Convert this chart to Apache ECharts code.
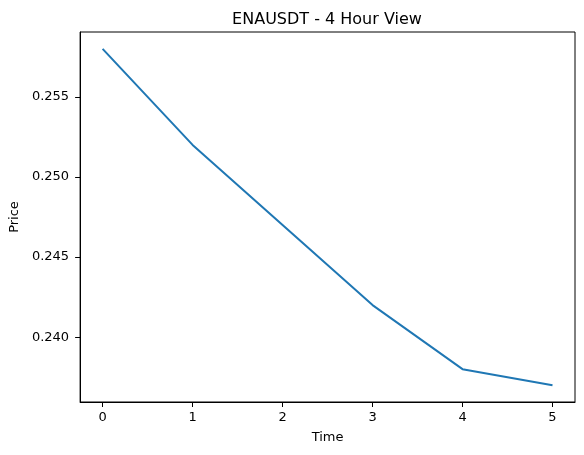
<!DOCTYPE html>
<html>
<head>
<meta charset="utf-8">
<script src="https://cdn.jsdelivr.net/npm/echarts@6/dist/echarts.min.js"></script>
<style>html,body{margin:0;padding:0;background:#fff;}#c{width:584px;height:455px;}</style>
</head>
<body>
<div id="c"></div>
<script>
var times = [0, 1, 2, 3, 4, 5];
var prices = [0.258, 0.252, 0.247, 0.242, 0.238, 0.237];
var xTicks = [0, 1, 2, 3, 4, 5];
var yTicks = [0.240, 0.245, 0.250, 0.255];

var chart = echarts.init(document.getElementById('c'), null, {renderer: 'canvas'});
var font = 'DejaVu Sans';
var lo = Math.min.apply(null, prices), hi = Math.max.apply(null, prices);
var pad = (hi - lo) * 0.05;
chart.setOption({
  animation: false,
  backgroundColor: '#fff',
  title: {
    text: 'ENAUSDT - 4 Hour View',
    left: 322, top: 7, textAlign: 'center',
    textStyle: {fontFamily: font, fontSize: 16, fontWeight: 'normal', color: '#000'}
  },
  grid: {left: 79, top: 32, width: 496, height: 370, show: true, borderColor: '#000', borderWidth: 1, backgroundColor: '#fff'},
  xAxis: {
    type: 'value', min: -0.25, max: 5.25,
    name: 'Time', nameLocation: 'middle', nameGap: 29,
    nameTextStyle: {fontFamily: font, fontSize: 13, color: '#000'},
    axisLine: {show: true, onZero: false, lineStyle: {color: '#000', width: 1}},
    axisTick: {show: true, length: 5, lineStyle: {color: '#000'}, customValues: xTicks},
    axisLabel: {fontFamily: font, fontSize: 13, color: '#000', margin: 9, customValues: xTicks},
    splitLine: {show: false}
  },
  yAxis: {
    type: 'value', min: lo - pad, max: hi + pad,
    name: 'Price', nameLocation: 'middle', nameGap: 57, nameRotate: 90,
    nameTextStyle: {fontFamily: font, fontSize: 13, color: '#000'},
    axisLine: {show: true, onZero: false, lineStyle: {color: '#000', width: 1}},
    axisTick: {show: true, length: 5, lineStyle: {color: '#000'}, customValues: yTicks},
    axisLabel: {fontFamily: font, fontSize: 13, color: '#000', margin: 11, customValues: yTicks,
      formatter: function (v) { return v.toFixed(3); }},
    splitLine: {show: false}
  },
  series: [{
    type: 'line',
    data: times.map(function (t, i) { return [t, prices[i]]; }),
    showSymbol: false,
    lineStyle: {color: '#1f77b4', width: 2},
    itemStyle: {color: '#1f77b4'}
  }]
});
</script>
</body>
</html>
